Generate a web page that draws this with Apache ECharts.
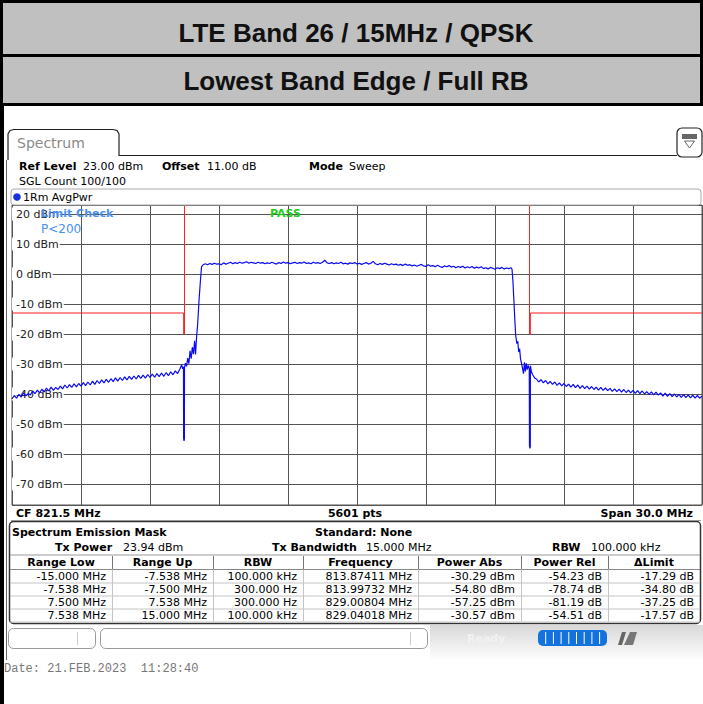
<!DOCTYPE html>
<html><head><meta charset="utf-8">
<script src="https://cdn.jsdelivr.net/npm/echarts@6/dist/echarts.min.js"></script>
<style>html,body{margin:0;padding:0;background:#fff;overflow:hidden}#c{width:703px;height:704px}</style>
</head><body><div id="c"></div><script>
// ---------------- data ----------------
const titleLine1 = 'LTE Band 26 / 15MHz / QPSK';
const titleLine2 = 'Lowest Band Edge / Full RB';
const refLevel = 23;          // dBm, top of screen
const bottomLevel = -77;      // dBm, bottom of screen
const yTicks = [20, 10, 0, -10, -20, -30, -40, -50, -60, -70];
const spanHalf = 15;          // MHz offset from CF
const xStep = 3;              // MHz per division
const sweepStep = 0.1;        // MHz between read points

// trace, left skirt: offsets -15.0 .. -7.7 MHz
const leftSkirtStart = -15.0;
const leftSkirt = [
  -41.6,-40.5,-41.4,-40.1,-41.0,-39.6,-40.6,-39.9,-40.3,-39.0,
  -39.9,-38.7,-39.6,-38.4,-39.3,-38.0,-39.0,-37.7,-38.8,-37.8,
  -38.5,-37.4,-38.3,-37.0,-38.0,-36.9,-37.8,-36.6,-37.6,-36.5,
  -37.4,-36.2,-37.2,-36.0,-37.0,-35.7,-36.8,-35.5,-36.5,-35.3,
  -36.3,-35.1,-36.1,-34.9,-35.9,-34.6,-35.7,-34.5,-35.5,-34.3,
  -35.3,-34.1,-35.1,-34.0,-35.0,-33.8,-34.8,-33.7,-34.7,-33.5,
  -34.5,-33.4,-34.4,-33.2,-34.2,-33.0,-34.1,-32.9,-33.9,-32.6,
  -33.6,-32.3,-33.2,-31.7
];
// lower band edge [offset MHz, dBm]
const leftEdge = [
  [-7.626,-30.3],[-7.58,-31.6],[-7.545,-30.9],[-7.538,-54.8],[-7.52,-55.6],[-7.505,-55.0],
  [-7.5,-31.2],[-7.46,-29.7],[-7.41,-30.8],[-7.36,-28.0],[-7.31,-29.9],[-7.26,-25.6],
  [-7.21,-28.2],[-7.16,-24.4],[-7.11,-26.7],[-7.06,-22.3],[-7.02,-26.8],[-6.97,-20.5],
  [-6.93,-17.0],[-6.87,-9.0],[-6.81,-2.5],[-6.76,2.4]
];
// in-band: offsets -6.7 .. 6.7 MHz
const flatStart = -6.7;
const flatTop = [
  3.0,3.4,3.1,3.5,3.2,3.6,3.3,3.4,3.1,3.7,
  3.3,3.6,3.9,3.4,3.8,3.5,3.9,3.6,3.8,4.1,
  3.6,3.9,3.7,3.5,3.9,3.6,3.8,3.4,3.7,3.5,
  3.9,3.6,3.3,3.8,3.5,4.0,3.6,3.8,3.4,3.7,
  3.9,3.5,3.8,3.6,4.0,3.5,3.7,3.4,3.9,3.6,
  3.8,3.5,3.9,4.6,3.7,3.5,3.8,3.4,3.7,3.5,
  3.9,3.4,3.6,3.3,3.7,3.5,3.8,3.3,3.6,3.2,
  3.5,3.8,3.3,3.6,4.2,3.4,3.1,3.5,3.2,3.6,
  3.3,3.0,3.4,3.1,3.3,2.9,3.2,2.8,3.3,2.9,
  3.1,2.7,3.0,2.6,2.9,3.2,2.7,2.5,3.1,2.6,
  2.8,2.4,2.9,2.5,2.2,2.7,2.4,2.8,2.3,2.6,
  2.1,2.5,2.2,2.6,2.0,2.4,2.1,2.5,1.9,2.3,
  2.0,2.4,1.8,2.1,1.7,2.2,1.9,1.6,2.1,1.8,
  2.2,1.7,2.0,1.8,2.1
];
// upper band edge [offset MHz, dBm]
const rightEdge = [
  [6.74,1.6],[6.78,-2.5],[6.82,-8.5],[6.86,-15.0],[6.9,-20.5],[6.95,-23.2],[6.99,-22.4],
  [7.03,-26.0],[7.07,-24.9],[7.11,-28.3],[7.16,-30.0],[7.2,-31.6],[7.24,-33.2],[7.28,-29.4],
  [7.32,-32.5],[7.36,-29.8],[7.4,-31.9],[7.45,-30.5],[7.49,-31.6],[7.5,-57.3],[7.52,-58.1],
  [7.535,-57.4],[7.538,-31.8],[7.54,-30.6],[7.58,-32.4],[7.63,-33.5],[7.68,-34.1],[7.73,-34.7]
];
// right skirt: offsets 7.8 .. 15.0 MHz
const rightSkirtStart = 7.8;
const rightSkirt = [
  -35.0,-36.0,-35.2,-36.3,-35.5,-36.6,-35.8,-36.8,-36.0,-37.1,
  -36.3,-37.3,-36.5,-37.5,-36.7,-37.7,-36.8,-37.9,-37.0,-38.1,
  -37.2,-38.2,-37.4,-38.4,-37.5,-38.5,-37.7,-38.7,-37.8,-38.8,
  -38.0,-38.9,-38.1,-39.1,-38.3,-39.2,-38.4,-39.4,-38.5,-39.5,
  -38.7,-39.6,-38.8,-39.8,-38.9,-39.9,-39.0,-40.0,-39.2,-40.1,
  -39.3,-40.3,-39.4,-40.4,-39.6,-40.7,-39.7,-40.8,-39.9,-40.9,
  -40.0,-41.0,-40.1,-41.1,-40.2,-41.2,-40.3,-41.3,-40.4,-41.4,
  -40.5,-41.4,-40.7
];

// SEM result table
const tableHeaders = ['Range Low','Range Up','RBW','Frequency','Power Abs','Power Rel','\u0394Limit'];
const rangeLowMHz = [-15.000, -7.538, 7.500, 7.538];
const rangeUpMHz  = [-7.538, -7.500, 7.538, 15.000];
const rbwText     = ['100.000 kHz','300.000 Hz','300.000 Hz','100.000 kHz'];
const peakFreqMHz = [813.87411, 813.99732, 829.00804, 829.04018];
const powerAbsDbm = [-30.29, -54.80, -57.25, -30.57];
const powerRelDb  = [-54.23, -78.74, -81.19, -54.51];
const deltaLimitDb= [-17.29, -34.80, -37.25, -17.57];

// ---------------- build ----------------
const trace = [];
leftSkirt.forEach((v,i)=>trace.push([+(leftSkirtStart+i*sweepStep).toFixed(3), v]));
leftEdge.forEach(p=>trace.push(p));
flatTop.forEach((v,i)=>trace.push([+(flatStart+i*sweepStep).toFixed(3), v]));
rightEdge.forEach(p=>trace.push(p));
rightSkirt.forEach((v,i)=>trace.push([+(rightSkirtStart+i*sweepStep).toFixed(3), v]));

const lim = powerAbsDbm.map((p,i)=>+(p - deltaLimitDb[i]).toFixed(2));
const limitLeft = [[rangeLowMHz[0],lim[0]],[rangeUpMHz[0],lim[0]],[rangeLowMHz[1],lim[1]],[rangeUpMHz[1],lim[1]],[rangeUpMHz[1],refLevel]];
const limitRight = [[rangeLowMHz[2],refLevel],[rangeLowMHz[2],lim[2]],[rangeUpMHz[2],lim[2]],[rangeLowMHz[3],lim[3]],[rangeUpMHz[3],lim[3]]];

const F = "'DejaVu Sans', Verdana, sans-serif";
const G = [];
function txt(x,y,s,o){o=o||{};G.push({type:'text',x:x,y:y,z:o.z||50,silent:true,style:{text:s,fill:o.color||'#000',fontSize:o.size||11,fontFamily:o.family||F,fontWeight:o.weight||'normal',fontStyle:o.style||'normal',align:o.align||'left',verticalAlign:'middle'}});}
function ln(x1,y1,x2,y2,c,w,z){G.push({type:'line',z:z||40,silent:true,shape:{x1:x1,y1:y1,x2:x2,y2:y2},style:{stroke:c,lineWidth:w||1}});}
function rc(x,y,w,h,o){G.push({type:'rect',z:o.z||10,silent:true,shape:{x:x,y:y,width:w,height:h,r:o.r||0},style:{fill:o.fill||'none',stroke:o.stroke||null,lineWidth:o.lw||1}});}

// header block
rc(0,0,703,106,{fill:'#000',z:1});
rc(3,3,697,51,{fill:'#c0c0c0',z:2});
rc(3,57,697,46,{fill:'#c0c0c0',z:2});
txt(356,33,titleLine1,{size:26,weight:'bold',family:"'Liberation Sans', Arial, sans-serif",align:'center',color:'#111'});
txt(356,81,titleLine2,{size:26,weight:'bold',family:"'Liberation Sans', Arial, sans-serif",align:'center',color:'#111'});
rc(0,106,4,598,{fill:'#000',z:2});

// screen top: tab + icon
G.push({type:'polyline',z:20,silent:true,shape:{points:[[8,160],[8,134],[10,130.5],[14,129.5],[113,129.5],[117,130.5],[119,134],[119,155.5],[677,155.5]]},style:{fill:'none',stroke:'#222',lineWidth:1.2}});
txt(17,143,'Spectrum',{size:14,color:'#8a8a8a'});
rc(677,128,25,29,{stroke:'#222',lw:1.2,r:5,fill:'#fff',z:20});
rc(682,134,15,5,{fill:'#666',z:21});
G.push({type:'polygon',z:21,silent:true,shape:{points:[[684.5,141],[694.5,141],[689.5,148]]},style:{fill:'none',stroke:'#666',lineWidth:1}});
ln(6.5,160,6.5,660,'#666',1,15);

txt(19,166,'Ref Level',{weight:'bold'});
txt(83,166,'23.00 dBm');
txt(162,166,'Offset',{weight:'bold'});
txt(207,166,'11.00 dB');
txt(309,166,'Mode',{weight:'bold'});
txt(349,166,'Sweep');
txt(19,181,'SGL Count 100/100');

// trace header box
rc(11,189,690,16,{stroke:'#aaa',r:3,fill:'#fff',z:5});
G.push({type:'circle',z:30,silent:true,shape:{cx:17,cy:197,r:3.8},style:{fill:'#1530e0'}});
txt(23,197,'1Rm AvgPwr');

// in-plot annotations
txt(41,213,'Limit Check',{weight:'bold',color:'#4a90f0',z:120});
txt(41,229,'P<200',{size:12,color:'#4a90f0',z:120});
txt(270,213,'PASS',{weight:'bold',color:'#22cc22',z:120});

// footer of diagram
ln(11,520.5,701,520.5,'#999',1);
txt(16,513,'CF 821.5 MHz',{weight:'bold'});
txt(355,513,'5601 pts',{weight:'bold',align:'center'});
txt(693,513,'Span 30.0 MHz',{weight:'bold',align:'right'});

// result table
rc(9.5,521.5,691,102,{stroke:'#333',lw:1.5,r:4,fill:'#fff',z:5});
txt(12,532,'Spectrum Emission Mask',{weight:'bold'});
txt(315,532,'Standard: None',{weight:'bold'});
txt(55,547,'Tx Power',{weight:'bold'});
txt(123,547,'23.94 dBm');
txt(272,547,'Tx Bandwidth',{weight:'bold'});
txt(366,547,'15.000 MHz');
txt(552,547,'RBW',{weight:'bold'});
txt(591,547,'100.000 kHz');
const colX = [10,112,213,303,418,521,608,700];
const headTop = 555, rowTop = 569.5, rowH = 13;
ln(10,headTop,700,headTop,'#999',1);
ln(10,rowTop,700,rowTop,'#888',1);
tableHeaders.forEach((h,i)=>{
  txt((colX[i]+colX[i+1])/2,562,h,{weight:'bold',align:'center'});
  if(i>0) ln(colX[i]+0.5,headTop+1,colX[i]+0.5,rowTop,'#777',1);
});
const rows = rangeLowMHz.map((v,i)=>[
  v.toFixed(3)+' MHz', rangeUpMHz[i].toFixed(3)+' MHz', rbwText[i],
  peakFreqMHz[i].toFixed(5)+' MHz', powerAbsDbm[i].toFixed(2)+' dBm',
  powerRelDb[i].toFixed(2)+' dB', deltaLimitDb[i].toFixed(2)+' dB']);
rows.forEach((r,ri)=>{
  const yc = rowTop + ri*rowH + rowH/2;
  r.forEach((s,ci)=>txt(colX[ci+1]-6,yc,s,{align:'right'}));
  ln(10,rowTop+(ri+1)*rowH+0.5,700,rowTop+(ri+1)*rowH+0.5,'#c4c4c4',1);
});
for(let i=1;i<colX.length-1;i++) ln(colX[i]+0.5,rowTop,colX[i]+0.5,rowTop+4*rowH,'#c4c4c4',1);

// status bar
G.push({type:'rect',z:3,silent:true,shape:{x:430,y:625,width:273,height:36},style:{fill:{type:'linear',x:0,y:0,x2:0,y2:1,colorStops:[{offset:0,color:'#d8d8d8'},{offset:1,color:'#ffffff'}]}}});
rc(8.5,628.5,87,20,{stroke:'#999',r:5,fill:'#fff',z:6});
ln(77.5,632,77.5,645,'#ccc',1);
rc(100.5,628.5,327,20,{stroke:'#999',r:5,fill:'#fff',z:6});
ln(410.5,632,410.5,645,'#ccc',1);
txt(467,638,'Ready',{weight:'bold',color:'#f2f2f2'});
rc(538,630,69,16,{fill:'#1472dc',r:5,z:6});
for(let k=1;k<9;k++) ln(538+k*7.7,632,538+k*7.7,644,'#ffffff',1,7);
G.push({type:'polygon',z:7,silent:true,shape:{points:[[618,645],[622,632],[626,632],[622,645]]},style:{fill:'#666'}});
G.push({type:'polygon',z:7,silent:true,shape:{points:[[624,645],[630,632],[637,632],[633,645]]},style:{fill:'#777'}});

txt(4,669,'Date: 21.FEB.2023\u00a0\u00a011:28:40',{size:12,family:"'Liberation Mono', 'DejaVu Sans Mono', monospace",color:'#777'});

const chart = echarts.init(document.getElementById('c'), null, {renderer:'svg', width:703, height:704});
chart.setOption({
  animation:false,
  backgroundColor:'#fff',
  grid:{left:12,right:1,top:205,bottom:199,show:true,borderColor:'#555',borderWidth:1,containLabel:false},
  xAxis:{type:'value',min:-spanHalf,max:spanHalf,interval:xStep,
    axisLine:{show:false},axisTick:{show:false},axisLabel:{show:false},
    splitLine:{show:true,lineStyle:{color:'#555',width:1}}},
  yAxis:{type:'value',min:bottomLevel,max:refLevel,splitNumber:10,
    axisLine:{show:false},axisTick:{show:false},
    splitLine:{show:true,lineStyle:{color:'#555',width:1}},
    axisLabel:{inside:true,margin:0,showMinLabel:false,showMaxLabel:false,
      formatter:v=>yTicks.indexOf(v)>=0?(v+' dBm'):'',
      color:'#222',fontSize:11,fontFamily:'DejaVu Sans',backgroundColor:'#fff',padding:[1,1,1,4]}},
  graphic:G,
  series:[
    {type:'line',data:limitLeft,showSymbol:false,z:3,lineStyle:{color:'#ff2020',width:1},silent:true},
    {type:'line',data:limitRight,showSymbol:false,z:3,lineStyle:{color:'#ff2020',width:1},silent:true},
    {type:'line',data:trace,showSymbol:false,z:4,lineStyle:{color:'#0a0af5',width:1.2},silent:true}
  ]
});
</script></body></html>
